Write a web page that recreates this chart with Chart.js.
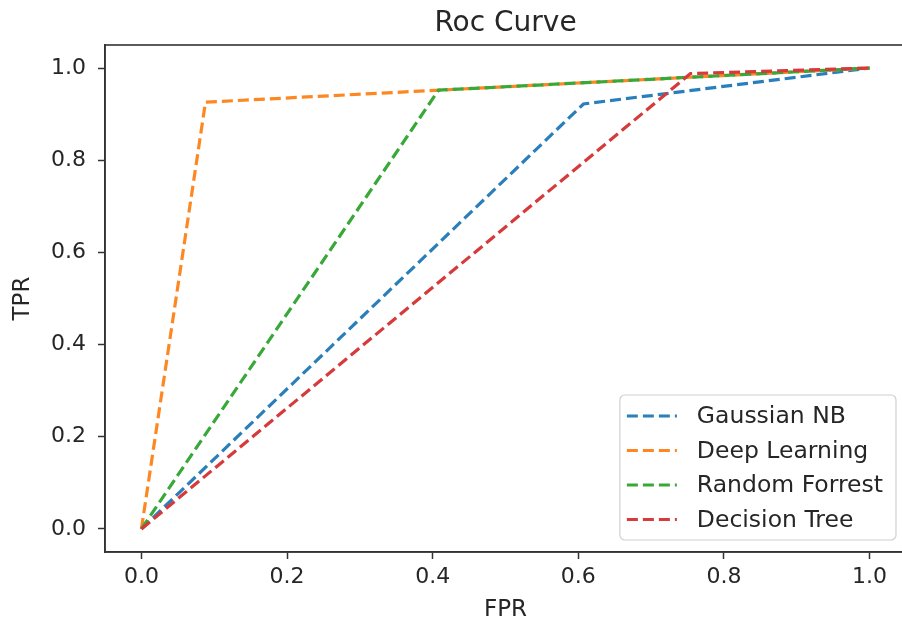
<!DOCTYPE html>
<html>
<head>
<meta charset="utf-8">
<script src="https://cdn.jsdelivr.net/npm/chart.js@4.4.1/dist/chart.umd.min.js"></script>
<style>
  html, body { margin: 0; padding: 0; background: #fff; overflow: hidden; }
  #wrap { width: 910px; height: 628px; }
</style>
</head>
<body>
<div id="wrap"><canvas id="roc" width="910" height="628"></canvas></div>
<script>
// values
const seriesNames = ['Gaussian NB', 'Deep Learning', 'Random Forrest', 'Decision Tree'];
const seriesColors = ['#2a7fba', '#fd8823', '#38a838', '#d63a3a'];

const fprGaussian = [0, 0.607, 1];
const tprGaussian = [0, 0.922, 1];
const fprDeep = [0, 0.088, 1];
const tprDeep = [0, 0.926, 1];
const fprForest = [0, 0.408, 1];
const tprForest = [0, 0.952, 1];
const fprTree = [0, 0.754, 1];
const tprTree = [0, 0.988, 1];

const xTicks = [0, 0.2, 0.4, 0.6, 0.8, 1.0];
const yTicks = [0, 0.2, 0.4, 0.6, 0.8, 1.0];

const fprs = [fprGaussian, fprDeep, fprForest, fprTree];
const tprs = [tprGaussian, tprDeep, tprForest, tprTree];

const FONT = '"DejaVu Sans", sans-serif';
const INK = '#262626';

const datasets = seriesNames.map((name, i) => ({
  label: name,
  data: fprs[i].map((x, j) => ({ x: x, y: tprs[i][j] })),
  borderColor: seriesColors[i],
  borderWidth: 3.2,
  borderDash: [11, 5],
  pointRadius: 0,
  showLine: true,
  fill: false,
  tension: 0,
  order: seriesNames.length - i
}));

// matplotlib look: title, full box, legend in the lower right
const frame = {
  id: 'frame',
  afterDraw(chart) {
    const { ctx, chartArea: a } = chart;
    ctx.save();
    ctx.strokeStyle = '#333';
    ctx.lineWidth = 1.6;
    ctx.strokeRect(a.left, a.top, a.right - a.left, a.bottom - a.top);

    ctx.fillStyle = INK;
    ctx.font = '28px ' + FONT;
    ctx.textAlign = 'center';
    ctx.textBaseline = 'alphabetic';
    ctx.fillText('Roc Curve', (a.left + a.right) / 2, 31);

    // legend
    ctx.font = '23.5px ' + FONT;
    let tw = 0;
    chart.data.datasets.forEach(d => { tw = Math.max(tw, ctx.measureText(d.label).width); });
    const rowH = 34.5;
    const w = 7 + 50 + 20 + tw + 13;
    const h = rowH * chart.data.datasets.length + 7;
    const x0 = a.right - 10 - w;
    const y0 = a.bottom - 12 - h;
    ctx.beginPath();
    ctx.roundRect(x0, y0, w, h, 5);
    ctx.fillStyle = 'rgba(255,255,255,0.85)';
    ctx.fill();
    ctx.strokeStyle = '#d0d0d0';
    ctx.lineWidth = 1.2;
    ctx.stroke();
    ctx.textAlign = 'left';
    ctx.textBaseline = 'middle';
    chart.data.datasets.forEach((d, i) => {
      const cy = y0 + 21 + i * rowH;
      ctx.beginPath();
      ctx.setLineDash([11, 5]);
      ctx.strokeStyle = d.borderColor;
      ctx.lineWidth = 3.2;
      ctx.moveTo(x0 + 7, cy);
      ctx.lineTo(x0 + 57, cy);
      ctx.stroke();
      ctx.setLineDash([]);
      ctx.fillStyle = INK;
      ctx.fillText(d.label, x0 + 77, cy + 1);
    });
    ctx.restore();
  }
};

new Chart(document.getElementById('roc'), {
  type: 'scatter',
  data: { datasets: datasets },
  plugins: [frame],
  options: {
    responsive: false,
    animation: false,
    layout: { padding: { top: 45, right: 4, left: 0, bottom: 0 } },
    plugins: {
      legend: { display: false },
      tooltip: { enabled: false },
      title: { display: false }
    },
    scales: {
      x: {
        type: 'linear',
        min: -0.05,
        max: 1.05,
        afterFit: s => { s.height = 76; },
        afterBuildTicks: s => { s.ticks = xTicks.map(v => ({ value: v })); },
        grid: { drawOnChartArea: false, drawTicks: true, tickLength: 7, tickColor: '#333', tickWidth: 1.5 },
        border: { display: true, color: '#333', width: 1.6 },
        ticks: {
          color: INK,
          font: { family: FONT, size: 22 },
          padding: 5,
          maxRotation: 0,
          callback: v => v.toFixed(1)
        },
        title: {
          display: true,
          text: 'FPR',
          color: INK,
          font: { family: FONT, size: 23 },
          padding: { top: 4, bottom: 4 }
        }
      },
      y: {
        type: 'linear',
        min: -0.05,
        max: 1.05,
        afterFit: s => { s.width = 105; },
        afterBuildTicks: s => { s.ticks = yTicks.map(v => ({ value: v })); },
        grid: { drawOnChartArea: false, drawTicks: true, tickLength: 7, tickColor: '#333', tickWidth: 1.5 },
        border: { display: true, color: '#333', width: 1.6 },
        ticks: {
          color: INK,
          font: { family: FONT, size: 22 },
          padding: 12,
          callback: v => v.toFixed(1)
        },
        title: {
          display: true,
          text: 'TPR',
          color: INK,
          font: { family: FONT, size: 23 },
          padding: { top: 9, bottom: 9 }
        }
      }
    }
  }
});
</script>
</body>
</html>
